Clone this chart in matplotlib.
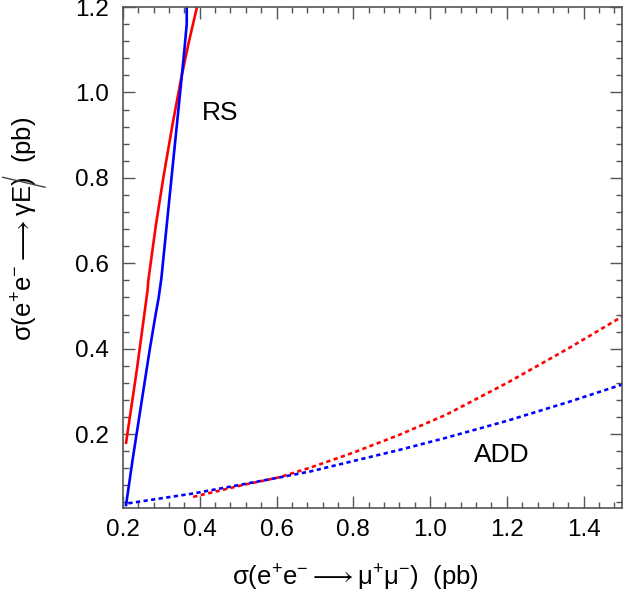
import matplotlib
matplotlib.use("Agg")
import matplotlib.pyplot as plt
from matplotlib.lines import Line2D
from matplotlib.ticker import MultipleLocator

plt.rcParams['font.family'] = ['Liberation Sans', 'DejaVu Sans']
plt.rcParams['mathtext.fontset'] = 'custom'
plt.rcParams['mathtext.rm'] = 'Liberation Sans'
plt.rcParams['mathtext.it'] = 'Liberation Sans:italic'
plt.rcParams['mathtext.bf'] = 'Liberation Sans:bold'
plt.rcParams['mathtext.fallback'] = 'stix'

# ---- data ----
rs_red_x = [0.208, 0.236, 0.264, 0.266, 0.285, 0.305, 0.330, 0.352, 0.372, 0.393]
rs_red_y = [0.180, 0.350, 0.537, 0.560, 0.685, 0.800, 0.930, 1.035, 1.120, 1.201]

rs_blue_x = [0.208, 0.225, 0.244, 0.270, 0.285, 0.293, 0.300, 0.314, 0.332, 0.350, 0.360, 0.366, 0.366]
rs_blue_y = [0.034, 0.140, 0.250, 0.400, 0.480, 0.520, 0.565, 0.690, 0.850, 1.010, 1.100, 1.160, 1.205]

add_red_x = [0.383, 0.513, 0.608, 0.686, 0.798, 0.919, 1.041, 1.205, 1.361, 1.500]
add_red_y = [0.053, 0.081, 0.099, 0.121, 0.156, 0.198, 0.245, 0.322, 0.401, 0.475]

add_blue_x = [0.214, 0.280, 0.383, 0.510, 0.610, 0.690, 0.800, 0.920, 1.040, 1.200, 1.360, 1.500]
add_blue_y = [0.038, 0.047, 0.061, 0.082, 0.099, 0.113, 0.137, 0.163, 0.191, 0.231, 0.275, 0.316]

x_ticks = [0.2, 0.4, 0.6, 0.8, 1.0, 1.2, 1.4]
y_ticks = [0.2, 0.4, 0.6, 0.8, 1.0, 1.2]

W, H = 623, 597
fig = plt.figure(figsize=(W / 100, H / 100), dpi=100)
ax = fig.add_axes([123 / W, 1 - 508 / H, (622 - 123) / W, (508 - 7) / H])

lw = 1.9
ax.plot(add_red_x, add_red_y, color='#ff0000', lw=lw, dashes=(1.6, 1.3))
ax.plot(add_blue_x, add_blue_y, color='#0000ff', lw=lw, dashes=(1.6, 1.3))
ax.plot(rs_red_x, rs_red_y, color='#ff0000', lw=lw)
ax.plot(rs_blue_x, rs_blue_y, color='#0000ff', lw=lw)

ax.set_xlim(0.2, 1.5)
ax.set_ylim(0.027, 1.2)
ax.set_xticks(x_ticks)
ax.set_yticks(y_ticks)
ax.set_xticklabels([f'{v:.1f}' for v in x_ticks])
ax.set_yticklabels([f'{v:.1f}' for v in y_ticks])
ax.xaxis.set_minor_locator(MultipleLocator(0.04))
ax.yaxis.set_minor_locator(MultipleLocator(0.04))

spine_col = '#555555'
for s in ax.spines.values():
    s.set_color(spine_col)
    s.set_linewidth(1.2)
ax.tick_params(which='both', direction='in', top=True, right=True, colors=spine_col,
               labelcolor='black', width=1.0)
ax.tick_params(which='major', length=8.5, labelsize=17.5)
ax.tick_params(which='minor', length=4)
ax.tick_params(axis='x', which='major', pad=8)
ax.tick_params(axis='y', which='major', pad=10)

ax.text(0.452, 0.951, 'RS', fontsize=19, ha='center', va='center')
ax.text(1.187, 0.151, 'ADD', fontsize=19, ha='center', va='center')

ax.set_xlabel(r'σ(e$^{+}$e$^{-}$$\longrightarrow$μ$^{+}$μ$^{-}$)  (pb)', fontsize=18.5)
ax.set_ylabel(r'σ(e$^{+}$e$^{-}$$\longrightarrow$γE)  (pb)', fontsize=18.5)
ax.xaxis.set_label_coords(355 / W, 1 - 563 / H, transform=fig.transFigure)
ax.yaxis.set_label_coords(40 / W, 1 - 229 / H, transform=fig.transFigure)

# slash through the E (missing energy)
fig.add_artist(Line2D([2.7 / W, 45 / W], [1 - 177.3 / H, 1 - 187.2 / H],
                      transform=fig.transFigure, color='#444444', lw=1.0))

fig.savefig('out.png', dpi=100)
